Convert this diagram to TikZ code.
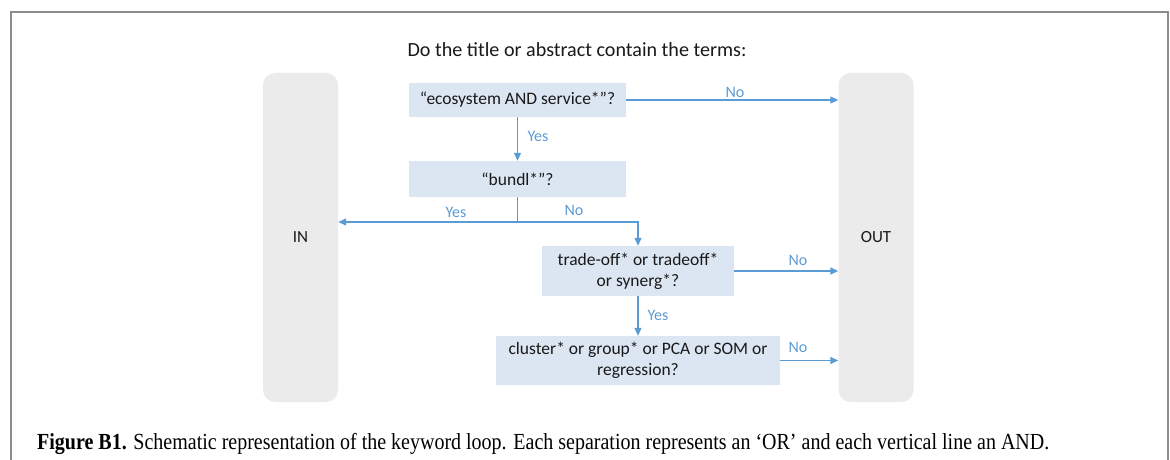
\documentclass[tikz,border=0pt]{standalone}
\usepackage{fontspec}
\setmainfont{Carlito}
\newfontfamily\capfont{Liberation Serif}
\usetikzlibrary{arrows.meta}
\definecolor{boxblue}{HTML}{DCE6F2}
\definecolor{lineblue}{HTML}{5B9BD5}
\definecolor{bargray}{HTML}{EBEBEB}
\definecolor{framegray}{HTML}{8C8C8C}
\tikzset{
  qbox/.style={fill=boxblue, draw=none, inner sep=0pt, align=center, font=\fontsize{17.5}{21}\selectfont, text=black!90},
  bar/.style={fill=bargray, draw=none, rounded corners=12pt, inner sep=0pt, minimum width=75pt, minimum height=329pt, font=\fontsize{17}{20}\selectfont, text=black!90},
  conn/.style={draw=lineblue, line width=1.2pt, -{Triangle[length=8pt,width=7pt]}},
  plain/.style={draw=lineblue, line width=1.2pt},
  lbl/.style={text=lineblue, font=\fontsize{16}{18}\selectfont, inner sep=0pt},
}
\begin{document}
\begin{tikzpicture}[x=1pt,y=-1pt]
\useasboundingbox (0,0) rectangle (1170,460);
% frame
\draw[framegray, line width=1.5pt] (11,460) -- (11,12) -- (1168,12) -- (1168,460);
% title
\node[font=\fontsize{20.1}{22}\selectfont, text=black!90] (title) at (577,50) {Do the title or abstract contain the terms:};
% bars
\node[bar] (in) at (300.5,237.5) {IN};
\node[bar] (out) at (876,237.5) {OUT};
% question boxes
\node[qbox, minimum width=217pt, minimum height=34pt] (q1) at (517.5,100) {“ecosystem AND service*”?};
\node[qbox, minimum width=217pt, minimum height=36pt] (q2) at (517.5,179) {“bundl*”?};
\node[qbox, minimum width=192pt, minimum height=50pt] (q3) at (638,271) {trade-off* or tradeoff*\\or synerg*?};
\node[qbox, minimum width=284pt, minimum height=49pt] (q4) at (638,360.5) {cluster* or group* or PCA or SOM or\\regression?};
% connectors
\draw[conn] (q1.east) -- (out.west |- q1.east);
\node[lbl] (l1) at (735,92) {No};
\draw[conn] (q1.south) -- (q2.north);
\node[lbl] (l2) at (538,136) {Yes};
\coordinate (j) at (517.5,222);
\draw[plain] (q2.south) -- (j);
\draw[conn] (j) -- (in.east |- j);
\draw[conn] (j) -- (q3.north |- j) -- (q3.north);
\node[lbl] (l3) at (456,212) {Yes};
\node[lbl] (l4) at (574,210) {No};
\draw[conn] (q3.east) -- (out.west |- q3.east);
\node[lbl] (l5) at (798,260) {No};
\draw[conn] (q3.south) -- (q4.north);
\node[lbl] (l6) at (658,315) {Yes};
\draw[conn] (q4.east) -- (out.west |- q4.east);
\node[lbl] (l7) at (798,347) {No};
% caption
\node[anchor=base west, inner sep=0pt, font=\capfont\fontsize{20}{22}\selectfont] (cap) at (37,449) {\scalebox{1}[1.15]{\textbf{Figure B1.} Schematic representation of the keyword loop. Each separation represents an ‘OR’ and each vertical line an AND.}};
\end{tikzpicture}
\end{document}
